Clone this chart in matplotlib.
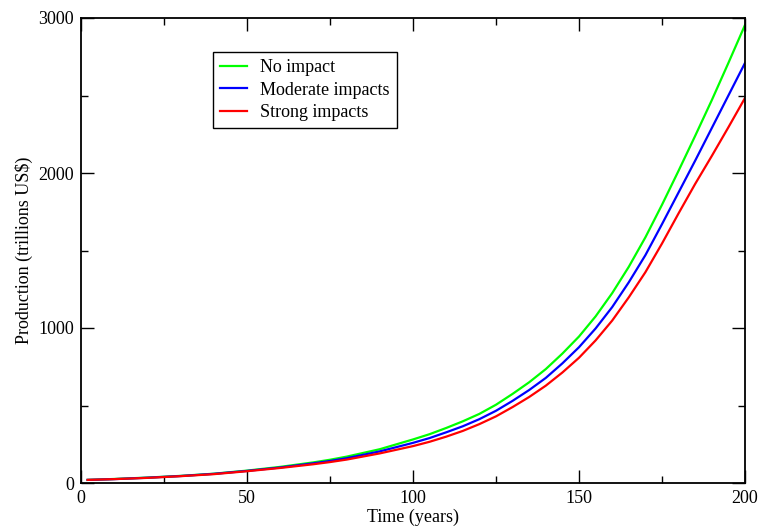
import matplotlib
matplotlib.use("Agg")
import matplotlib.pyplot as plt
from matplotlib.ticker import MultipleLocator

# Values
years = [2, 10, 20, 30, 40, 50, 60, 70, 75, 80, 90, 100, 105, 110, 115, 120,
         125, 130, 135, 140, 145, 150, 155, 160, 165, 170, 175, 180, 185,
         190, 195, 200]
no_impact = [20, 26, 35, 46, 60, 80, 104, 133, 150, 170, 218, 281, 315, 355,
             398, 446, 505, 575, 650, 735, 835, 945, 1075, 1225, 1395, 1585,
             1795, 2015, 2240, 2470, 2710, 2955]
moderate = [20, 25, 34, 45, 59, 78, 100, 127, 142, 160, 204, 259, 290, 327,
            366, 412, 466, 530, 600, 678, 772, 876, 997, 1135, 1295, 1470,
            1670, 1875, 2080, 2290, 2500, 2710]
strong = [20, 25, 33, 44, 57, 76, 97, 121, 135, 151, 191, 238, 266, 299,
          336, 380, 430, 490, 555, 628, 713, 808, 920, 1048, 1198, 1360,
          1545, 1740, 1930, 2110, 2295, 2484]

series_labels = ["No impact", "Moderate impacts", "Strong impacts"]
series_colors = ["#00ff00", "#0000ff", "#ff0000"]

plt.rcParams["font.family"] = ["Liberation Serif", "DejaVu Serif"]
plt.rcParams["font.size"] = 13

fig = plt.figure(figsize=(7.62, 5.29), dpi=100)
ax = fig.add_axes([81 / 762, 1 - 483 / 529, 664 / 762, 465 / 529])

for vals, lab, col in zip([no_impact, moderate, strong], series_labels, series_colors):
    ax.plot(years, vals, color=col, lw=1.6, label=lab)

ax.set_xlim(0, 200)
ax.set_ylim(0, 3000)
ax.xaxis.set_major_locator(MultipleLocator(50))
ax.xaxis.set_minor_locator(MultipleLocator(25))
ax.yaxis.set_major_locator(MultipleLocator(1000))
ax.yaxis.set_minor_locator(MultipleLocator(500))
ax.tick_params(which="both", direction="in", top=True, right=True, width=1.0)
ax.tick_params(which="major", length=9.5, pad=5)
ax.tick_params(which="minor", length=5)
for sp in ax.spines.values():
    sp.set_linewidth(1.3)

ax.set_xlabel("Time (years)", labelpad=1)
ax.set_ylabel("Production (trillions US$)", labelpad=4)

leg = ax.legend(loc="upper left", bbox_to_anchor=((213 - 81) / 664, (483 - 52) / 465),
                frameon=True, fancybox=False, edgecolor="black", framealpha=1,
                handlelength=1.5, handletextpad=0.7, labelspacing=0.3,
                borderpad=0.4, borderaxespad=0)
leg.get_frame().set_linewidth(1.0)

fig.savefig("out.png", dpi=100)
